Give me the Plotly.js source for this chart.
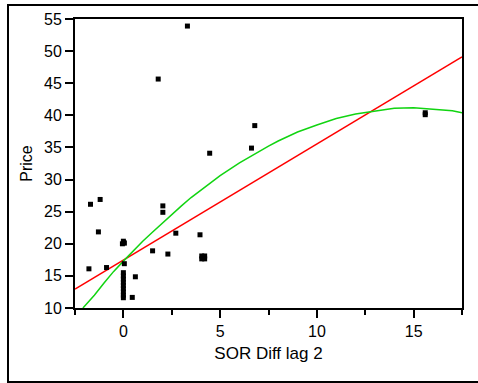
<!DOCTYPE html>
<html>
<head>
<meta charset="utf-8">
<script src="https://cdn.plot.ly/plotly-3.0.1.min.js"></script>
<style>
html,body{margin:0;padding:0;background:#fff;}
#chart{width:478px;height:383px;}
</style>
</head>
<body>
<div id="chart"></div>
<script>
// Scatter data
const sorDiff = [-1.70, -1.20, -1.29, -1.78, -0.87, -0.05, 0.05, 0.00, 0.02, 0.05, 1.51, 0.62, 0.46,
  0, 0, 0, 0, 0, 0, 0, 0, 0,
  2.04, 2.04, 2.71, 3.96, 2.30, 4.05, 4.20, 4.05, 4.20, 3.31, 1.80, 6.79, 6.62, 4.46, 15.6, 15.6];
const price = [26.15, 26.9, 21.85, 16.1, 16.3, 20.0, 20.1, 20.4, 20.2, 16.9, 18.9, 14.86, 11.65,
  11.6, 12.0, 12.5, 13.0, 13.5, 14.0, 14.5, 15.0, 15.5,
  25.9, 24.9, 21.65, 21.4, 18.4, 17.65, 17.65, 18.1, 18.1, 53.9, 45.65, 38.4, 34.9, 34.1, 40.1, 40.4];

// Linear fit line (read endpoints)
const linX = [-2.5, 17.5];
const linY = [12.95, 49.1];

// Quadratic fit curve (read points)
const quadX = [-2.09, -1.5, -1, -0.5, 0, 0.5, 1, 1.5, 2, 2.5, 3, 3.5, 4, 4.5, 5, 6, 7, 7.5, 8, 9, 10, 11, 12, 13, 14, 15, 16, 17, 17.5];
const quadY = [10.0, 12.0, 13.9, 15.7, 17.3, 18.9, 20.4, 21.8, 23.2, 24.6, 25.9, 27.2, 28.3, 29.5, 30.6, 32.6, 34.4, 35.2, 36.0, 37.4, 38.5, 39.5, 40.2, 40.7, 41.1, 41.2, 41.0, 40.7, 40.4];

// Tick values / labels
const xTicks = [0, 5, 10, 15];
const yTicks = [10, 15, 20, 25, 30, 35, 40, 45, 50, 55];

const font = {family: '"Liberation Sans", Arial, sans-serif', size: 16, color: '#000'};
const titleFont = {family: '"Liberation Sans", Arial, sans-serif', size: 17, color: '#000'};

const traces = [
  {x: linX, y: linY, mode: 'lines', line: {color: '#ff0000', width: 1.5}, hoverinfo: 'skip'},
  {x: quadX, y: quadY, mode: 'lines', line: {color: '#11d411', width: 1.5, shape: 'linear'}, hoverinfo: 'skip'},
  {x: sorDiff, y: price, mode: 'markers', marker: {symbol: 'square', size: 5, color: '#000'}}
];

const L = 75, R = 16, T = 19, B = 75, W = 478, H = 383;
const pw = W - L - R, ph = H - T - B;
const px = v => (v - L) / pw;
const py = v => 1 - (v - T) / ph;

const layout = {
  width: W, height: H,
  margin: {l: L, r: R, t: T, b: B, pad: 0},
  paper_bgcolor: '#fff', plot_bgcolor: '#fff',
  showlegend: false,
  font: font,
  xaxis: {
    range: [-2.5, 17.5], tickvals: xTicks, ticktext: xTicks.map(String),
    showgrid: false, zeroline: false, showline: true, mirror: true,
    linecolor: '#000', linewidth: 2,
    ticks: 'outside', ticklen: 8, tickwidth: 2, tickcolor: '#000',
    minor: {dtick: 2.5, tick0: 0, ticks: 'outside', ticklen: 5, tickwidth: 2, tickcolor: '#000', showgrid: false},
    tickfont: font,
    title: {text: 'SOR Diff lag 2', font: titleFont, standoff: 8}
  },
  yaxis: {
    range: [10, 55], tickvals: yTicks, ticktext: yTicks.map(String),
    showgrid: false, zeroline: false, showline: true, mirror: true,
    linecolor: '#000', linewidth: 2,
    ticks: 'outside', ticklen: 8, tickwidth: 2, tickcolor: '#000',
    tickfont: font,
    title: {text: 'Price', font: font, standoff: 7}
  },
  shapes: [
    {type: 'rect', xref: 'paper', yref: 'paper',
     x0: px(8), x1: px(490), y0: py(382), y1: py(5),
     line: {color: '#000', width: 2}, fillcolor: 'rgba(0,0,0,0)', layer: 'below'}
  ]
};

Plotly.newPlot('chart', traces, layout, {staticPlot: true, displayModeBar: false});
</script>
</body>
</html>
